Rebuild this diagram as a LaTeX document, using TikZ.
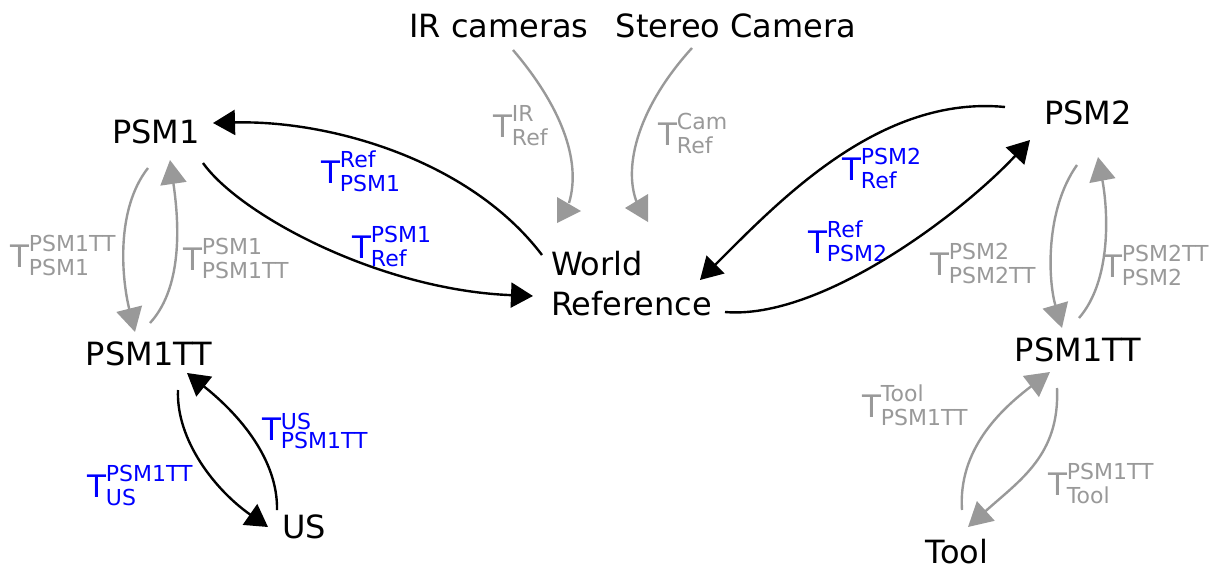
\documentclass[tikz,border=0pt]{standalone}
\usepackage{fontspec}
\setmainfont{DejaVu Sans}
\usetikzlibrary{arrows.meta}
\definecolor{tgray}{RGB}{153,153,153}
\definecolor{tblue}{RGB}{0,0,255}
\newcommand\Tgen[4]{T\raisebox{-#2pt}{\vbox{\fontsize{22}{#1}\selectfont\lineskiplimit=-100pt\hbox{#3}\hbox{#4}}}}
\newcommand\Tr[2]{\Tgen{23.5}{8}{#1}{#2}}
\begin{document}
\begin{tikzpicture}[x=1pt,y=-1pt,
  lbl/.style={inner sep=0,outer sep=0,font=\fontsize{32}{40}\selectfont},
  tl/.style={inner sep=0,outer sep=0,anchor=base west,font=\fontsize{31}{40}\selectfont},
  bl/.style={tl,text=tblue},
  gl/.style={tl,text=tgray},
  blk/.style={line width=2.4pt,black,-{Triangle[length=22pt,width=25pt]}},
  gry/.style={line width=2.4pt,tgray,-{Triangle[length=24pt,width=26pt]}},
  gryline/.style={line width=2.4pt,tgray},
]
\useasboundingbox (0,0) rectangle (1224,563);

% main nodes
\node[lbl,anchor=base] (ir) at (499,37) {IR cameras};
\node[lbl,anchor=base] (stereo) at (736,37) {Stereo Camera};
\node[lbl,anchor=base] (psm1) at (156,143) {PSM1};
\node[lbl,anchor=base] (psm2) at (1088,124) {PSM2};
\node[lbl,anchor=base west] (world) at (551,275) {\begin{tabular}[t]{@{}l@{}}World\\Reference\end{tabular}};
\node[lbl,anchor=base] (psm1tt) at (149,365) {PSM1TT};
\node[lbl,anchor=base] (us) at (304,538) {US};
\node[lbl,anchor=base] (psm1ttr) at (1078,361) {PSM1TT};
\node[lbl,anchor=base] (tool) at (957,563) {Tool};

% transform labels
\node[gl] (tir) at (493,137) {\Tr{IR}{Ref}};
\node[gl] (tcam) at (658,145) {\Tr{Cam}{Ref}};
\node[bl] (trefpsm1) at (321,183) {\Tr{Ref}{PSM1}};
\node[bl] (tpsm1ref) at (352,258) {\Tr{PSM1}{Ref}};
\node[gl] (tpsm1ttpsm1) at (10,267) {\Tr{PSM1TT}{PSM1}};
\node[gl] (tpsm1psm1tt) at (183,270) {\Tr{PSM1}{PSM1TT}};
\node[bl] (tuspsm1tt) at (262,440) {\Tgen{19}{8}{US}{PSM1TT}};
\node[bl] (tpsm1ttus) at (87,497) {\Tr{PSM1TT}{US}};
\node[bl] (tpsm2ref) at (842,180) {\Tr{PSM2}{Ref}};
\node[bl] (trefpsm2) at (808,253) {\Tr{Ref}{PSM2}};
\node[gl] (tpsm2psm2tt) at (930,275) {\Tr{PSM2}{PSM2TT}};
\node[gl] (tpsm2ttpsm2) at (1103,277) {\Tr{PSM2TT}{PSM2}};
\node[gl] (ttoolpsm1tt) at (862,417) {\Tr{Tool}{PSM1TT}};
\node[gl] (tpsm1tttool) at (1048,495) {\Tr{PSM1TT}{Tool}};

% connector end points
\coordinate (irS) at (513,50);
\coordinate (irE) at (569,203);
\coordinate (camS) at (692,48);
\coordinate (camE) at (637,203);
\coordinate (worldA) at (542,255);
\coordinate (psm1In) at (213,123);
\coordinate (psm1Out) at (203,163);
\coordinate (worldIn) at (533,296);
\coordinate (worldOut) at (725,312);
\coordinate (psm2In) at (1030,140);
\coordinate (psm2Out) at (1005,107);
\coordinate (worldIn2) at (700,280);
\coordinate (p1Down) at (148,168);
\coordinate (ttIn) at (135,332);
\coordinate (ttOut) at (150,323);
\coordinate (p1Up) at (170,160);
\coordinate (ttDown) at (178,390);
\coordinate (usIn) at (268,527);
\coordinate (usOut) at (277,510);
\coordinate (ttUp) at (187,373);
\coordinate (p2Down) at (1077,165);
\coordinate (ttrIn) at (1062,328);
\coordinate (ttrOut) at (1079,318);
\coordinate (p2Up) at (1098,157);
\coordinate (toolOut) at (962,510);
\coordinate (ttrUp) at (1050,372);
\coordinate (ttrDown) at (1057,388);
\coordinate (toolIn) at (968,527);

% black connectors
\draw[blk] (worldA) .. controls (470,160) and (330,120) .. (psm1In);
\draw[blk] (psm1Out) .. controls (240,215) and (380,290) .. (worldIn);
\draw[blk] (worldOut) .. controls (820,320) and (960,215) .. (psm2In);
\draw[blk] (psm2Out) .. controls (880,95) and (780,200) .. (worldIn2);
\draw[blk] (ttDown) .. controls (176,440) and (215,490) .. (usIn);
\draw[blk] (usOut) .. controls (278,460) and (240,415) .. (ttUp);

% gray connectors
\draw[gryline] (irS) .. controls (560,105) and (582,160) .. (irE);
\fill[tgray] (557,197) -- (581,211) -- (557,223) -- cycle;
\draw[gryline] (camS) .. controls (640,105) and (622,165) .. (camE);
\fill[tgray] (625,208) -- (648,194) -- (648,222) -- cycle;
\draw[gry] (p1Down) .. controls (115,210) and (122,280) .. (ttIn);
\draw[gry] (ttOut) .. controls (185,285) and (178,215) .. (p1Up);
\draw[gry] (p2Down) .. controls (1045,210) and (1048,280) .. (ttrIn);
\draw[gry] (ttrOut) .. controls (1112,280) and (1108,210) .. (p2Up);
\draw[gry] (toolOut) .. controls (958,450) and (1000,410) .. (ttrUp);
\draw[gry] (ttrDown) .. controls (1060,455) and (1020,480) .. (toolIn);
\end{tikzpicture}
\end{document}
